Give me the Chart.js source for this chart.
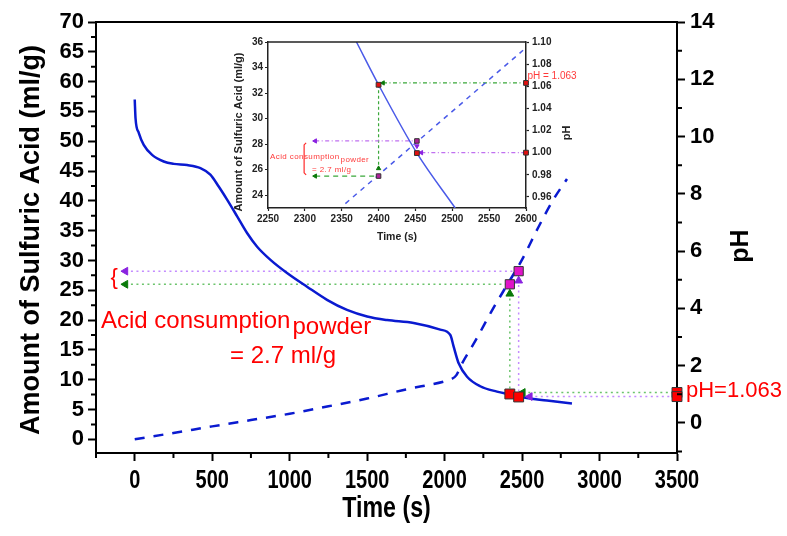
<!DOCTYPE html>
<html>
<head>
<meta charset="utf-8">
<script src="https://cdn.jsdelivr.net/npm/chart.js@4.4.0/dist/chart.umd.min.js"></script>
<style>
  html, body { margin: 0; padding: 0; background: #fff; }
  #wrap { position: relative; width: 787px; height: 536px; }
  #mainChart { position: absolute; left: 0; top: 0; }
  #insetChart { position: absolute; left: 228px; top: 30px; filter: blur(0.5px); }
</style>
</head>
<body>
<div id="wrap">
  <canvas id="mainChart" width="787" height="536"></canvas>
  <canvas id="insetChart" width="352" height="220"></canvas>
</div>
<script>
// ---------- main plot: acid consumption and pH vs time ----------
const xTicks = [0, 500, 1000, 1500, 2000, 2500, 3000, 3500];
const xMinor = [-250, 250, 750, 1250, 1750, 2250, 2750, 3250];
const acidTicks = [0, 5, 10, 15, 20, 25, 30, 35, 40, 45, 50, 55, 60, 65, 70];
const acidMinor = [2.5, 7.5, 12.5, 17.5, 22.5, 27.5, 32.5, 37.5, 42.5, 47.5, 52.5, 57.5, 62.5, 67.5];
const phTicks = [0, 2, 4, 6, 8, 10, 12, 14];
const phMinor = [-1, 1, 3, 5, 7, 9, 11, 13];

const acidTime = [0, 5, 26, 58, 112, 187, 252, 338, 424, 488, 542, 596, 661, 725, 790, 876, 983, 1112, 1241, 1370, 1500, 1629, 1800, 1972, 2037, 2058, 2090, 2145, 2230, 2338, 2424, 2489, 2661, 2822];
const acidAmount = [57.0, 53.9, 51.4, 49.4, 47.7, 46.6, 46.2, 46.0, 45.5, 44.4, 42.4, 40.2, 37.4, 34.6, 32.3, 30.1, 27.9, 25.6, 23.4, 21.7, 20.6, 20.0, 19.5, 18.4, 17.5, 15.6, 12.8, 10.5, 8.9, 8.0, 7.5, 7.1, 6.5, 6.0];

const phTime = [0, 250, 500, 750, 1000, 1250, 1500, 1750, 2000, 2040, 2075, 2110, 2200, 2300, 2400, 2500, 2600, 2700, 2790];
const phValue = [-0.57, -0.35, -0.12, 0.1, 0.32, 0.58, 0.85, 1.17, 1.45, 1.52, 1.66, 2.05, 2.88, 3.87, 4.79, 5.7, 6.78, 7.78, 8.52];

// marcações: primeiro ponto (verde) e segundo ponto (roxo)
const markTime = [2421, 2478];
const markAcidOnCurve = [7.6, 7.1];
const markAcidOnPh = [26.0, 28.2];
const arrowUpAcid = [24.4, 26.6];
const markPh = [1.063, 0.92];
const arrowPhTime = [2505, 2550];
const guideStart = -60;
const guideEnd = 3500;

// ---------- inset: zoom 2250-2600 s ----------
const insetXTicks = [2250, 2300, 2350, 2400, 2450, 2500, 2550, 2600];
const insetAcidTicks = [24, 26, 28, 30, 32, 34, 36];
const insetPhTicks = [0.96, 0.98, 1.00, 1.02, 1.04, 1.06, 1.08, 1.10];

const insetAcidTime = [2370, 2400, 2452, 2504];
const insetAcidAmount = [36.0, 32.65, 27.3, 23.0];
const insetPhTime = [2355, 2596];
const insetPhValue = [0.954, 1.0925];

const insetRedTime = [2400, 2452];
const insetRedAcid = [32.65, 27.3];
const insetMagAcid = [25.5, 28.25];
const insetPhMarks = [1.063, 1.00];
const insetGuideStart = 2314;

const BLUE = '#0a1ad0';
const GREEN_LINE = '#6cc46c';
const PURPLE_LINE = '#c48cff';
const GREEN_ARROW = '#0a7a0a';
const PURPLE_ARROW = '#8a22e0';
const FONT = "'Liberation Sans', Arial, sans-serif";

function pts(xs, ys) {
  return xs.map((x, i) => ({ x: x, y: ys[i] }));
}

function guide(data, color, axis, dash, width) {
  return {
    type: 'line', data: data, yAxisID: axis, borderColor: color,
    borderWidth: width || 1.5, borderDash: dash || [2, 3.5],
    pointRadius: 0, fill: false, order: 5, clip: false
  };
}

function marks(data, axis, style, radius, fill, edge, rotation) {
  return {
    type: 'line', data: data, yAxisID: axis, showLine: false,
    pointStyle: style, pointRadius: radius, pointRotation: rotation || 0,
    pointBackgroundColor: fill, pointBorderColor: edge, pointBorderWidth: 1,
    order: 0, clip: false
  };
}

function fixedTicks(values) {
  return function (scale) { scale.ticks = values.map(v => ({ value: v })); };
}

function drawRotated(ctx, text, x, y, font) {
  ctx.save();
  ctx.translate(x, y);
  ctx.rotate(-Math.PI / 2);
  ctx.font = font;
  ctx.textAlign = 'center';
  ctx.textBaseline = 'middle';
  ctx.fillText(text, 0, 0);
  ctx.restore();
}

const mainDecor = {
  id: 'mainDecor',
  afterDraw(chart) {
    const { ctx, chartArea: a, scales } = chart;
    const sx = scales.x, sa = scales.y, sp = scales.y2;
    ctx.save();
    ctx.strokeStyle = '#000';
    ctx.lineWidth = 2;
    ctx.beginPath();
    ctx.moveTo(a.left - 1, a.top);
    ctx.lineTo(a.right + 1, a.top);
    xMinor.forEach(v => { const p = sx.getPixelForValue(v); ctx.moveTo(p, a.bottom); ctx.lineTo(p, a.bottom + 5); });
    acidMinor.forEach(v => { const p = sa.getPixelForValue(v); ctx.moveTo(a.left, p); ctx.lineTo(a.left - 5, p); });
    phMinor.forEach(v => { const p = sp.getPixelForValue(v); ctx.moveTo(a.right, p); ctx.lineTo(a.right + 5, p); });
    ctx.stroke();

    // x tick labels (condensed bold)
    ctx.fillStyle = '#000';
    ctx.textAlign = 'center';
    ctx.textBaseline = 'middle';
    ctx.font = 'bold 25px ' + FONT;
    xTicks.forEach(v => {
      ctx.save();
      ctx.translate(sx.getPixelForValue(v), 481);
      ctx.scale(0.8, 1);
      ctx.fillText(String(v), 0, 0);
      ctx.restore();
    });
    ctx.save();
    ctx.translate((a.left + a.right) / 2, 509);
    ctx.scale(0.8, 1);
    ctx.font = 'bold 29px ' + FONT;
    ctx.fillText('Time (s)', 0, 0);
    ctx.restore();

    drawRotated(ctx, 'Amount of Sulfuric Acid (ml/g)', 32, 240, 'bold 27px ' + FONT);
    drawRotated(ctx, 'pH', 741, 246, 'bold 25px ' + FONT);

    // annotations in red
    ctx.fillStyle = '#ff0000';
    ctx.textAlign = 'left';
    ctx.textBaseline = 'alphabetic';
    ctx.font = '24px ' + FONT;
    ctx.fillText('Acid consumption', 101, 328);
    const w = ctx.measureText('Acid consumption').width;
    ctx.fillText('powder', 101 + w + 2, 334);
    ctx.fillText('= 2.7 ml/g', 230, 363);
    ctx.font = '22px ' + FONT;
    ctx.textBaseline = 'middle';
    ctx.fillText('pH=1.063', 686, sp.getPixelForValue(markPh[0]) - 2);
    ctx.textAlign = 'center';
    ctx.fillText('{', sx.getPixelForValue(guideStart - 72), (sa.getPixelForValue(markAcidOnPh[0]) + sa.getPixelForValue(markAcidOnPh[1])) / 2);
    ctx.restore();
  }
};

const axisCommon = {
  border: { display: true, color: '#000', width: 2 },
  grid: { drawOnChartArea: false, drawTicks: true, tickLength: 8, tickColor: '#000', tickWidth: 2 }
};

new Chart(document.getElementById('mainChart'), {
  type: 'line',
  data: {
    datasets: [
      marks(pts(markTime, markAcidOnCurve), 'y', 'rect', 7, '#ff0000', '#333'),
      marks(pts(markTime, markAcidOnPh), 'y', 'rect', 6.5, '#e014c8', '#333'),
      marks(pts([guideEnd, guideEnd], markPh), 'y2', 'rect', 7, '#ff0000', '#333'),
      marks(pts(markTime, arrowUpAcid), 'y', 'triangle', 4.5, [GREEN_ARROW, PURPLE_ARROW], [GREEN_ARROW, PURPLE_ARROW]),
      marks(pts([guideStart, guideStart], markAcidOnPh), 'y', 'triangle', 4.5, [GREEN_ARROW, PURPLE_ARROW], [GREEN_ARROW, PURPLE_ARROW], -90),
      marks(pts(arrowPhTime, markPh), 'y2', 'triangle', 4.5, [GREEN_ARROW, PURPLE_ARROW], [GREEN_ARROW, PURPLE_ARROW], -90),
      guide(pts([guideStart, markTime[0]], [markAcidOnPh[0], markAcidOnPh[0]]), GREEN_LINE, 'y'),
      guide(pts([guideStart, markTime[1]], [markAcidOnPh[1], markAcidOnPh[1]]), PURPLE_LINE, 'y'),
      guide(pts([markTime[0], markTime[0]], [markAcidOnCurve[0], arrowUpAcid[0]]), GREEN_LINE, 'y'),
      guide(pts([markTime[1], markTime[1]], [markAcidOnCurve[1], arrowUpAcid[1]]), PURPLE_LINE, 'y'),
      guide(pts([arrowPhTime[0], guideEnd], [markPh[0], markPh[0]]), GREEN_LINE, 'y2'),
      guide(pts([arrowPhTime[1], guideEnd], [markPh[1], markPh[1]]), PURPLE_LINE, 'y2'),
      {
        data: pts(acidTime, acidAmount), yAxisID: 'y', borderColor: BLUE, borderWidth: 2.5,
        pointRadius: 0, cubicInterpolationMode: 'monotone', fill: false, order: 2
      },
      {
        data: pts(phTime, phValue), yAxisID: 'y2', borderColor: BLUE, borderWidth: 2.5,
        borderDash: [10, 9], pointRadius: 0, cubicInterpolationMode: 'monotone', fill: false, order: 2
      }
    ]
  },
  options: {
    responsive: false,
    animation: false,
    events: [],
    layout: { padding: { top: 22, left: 0, right: 0, bottom: 0 } },
    plugins: { legend: { display: false }, tooltip: { enabled: false } },
    scales: {
      x: Object.assign({}, axisCommon, {
        type: 'linear', min: -250, max: 3500,
        afterBuildTicks: fixedTicks(xTicks),
        afterFit: s => { s.height = 83; },
        ticks: { display: false }
      }),
      y: Object.assign({}, axisCommon, {
        type: 'linear', position: 'left', min: -2.3, max: 70,
        afterBuildTicks: fixedTicks(acidTicks),
        afterFit: s => { s.width = 96; },
        ticks: { color: '#000', padding: 4, font: { family: FONT, weight: 'bold', size: 22 } }
      }),
      y2: Object.assign({}, axisCommon, {
        type: 'linear', position: 'right', min: -1.05, max: 14,
        afterBuildTicks: fixedTicks(phTicks),
        afterFit: s => { s.width = 110; },
        ticks: { color: '#000', padding: 5, font: { family: FONT, weight: 'bold', size: 22 } }
      })
    }
  },
  plugins: [mainDecor]
});

// ---------- inset chart ----------
const insetDecor = {
  id: 'insetDecor',
  afterDraw(chart) {
    const { ctx, chartArea: a, scales } = chart;
    const sx = scales.x, sa = scales.y;
    ctx.save();
    ctx.strokeStyle = '#222';
    ctx.lineWidth = 1.5;
    ctx.beginPath();
    ctx.moveTo(a.left, a.top);
    ctx.lineTo(a.right, a.top);
    ctx.stroke();

    // red bracket spanning the consumption
    const bx = sx.getPixelForValue(2299);
    const y1 = sa.getPixelForValue(28.1), y2 = sa.getPixelForValue(25.6);
    ctx.strokeStyle = '#ff2a2a';
    ctx.lineWidth = 1.2;
    ctx.beginPath();
    ctx.moveTo(bx + 2, y1); ctx.lineTo(bx, y1 + 2); ctx.lineTo(bx, y2 - 2); ctx.lineTo(bx + 2, y2);
    ctx.stroke();

    ctx.fillStyle = '#222';
    drawRotated(ctx, 'Amount of Sulfuric Acid (ml/g)', 11, 102, 'bold 11px ' + FONT);
    drawRotated(ctx, 'pH', 339, 103, 'bold 11px ' + FONT);
    ctx.font = 'bold 10.5px ' + FONT;
    ctx.textAlign = 'center';
    ctx.textBaseline = 'middle';
    ctx.fillText('Time (s)', 169, 207);

    ctx.fillStyle = '#ff3a3a';
    ctx.textAlign = 'left';
    ctx.textBaseline = 'alphabetic';
    ctx.font = '8px ' + FONT;
    ctx.letterSpacing = '0.4px';
    ctx.fillText('Acid consumption', 42, 129);
    const w = ctx.measureText('Acid consumption').width;
    ctx.fillText('powder', 42 + w + 1, 132);
    ctx.fillText('= 2.7 ml/g', 84, 142);
    ctx.letterSpacing = '0px';
    ctx.font = '10px ' + FONT;
    ctx.textAlign = 'center';
    ctx.fillText('pH = 1.063', 324, 49);
    ctx.restore();
  }
};

const insetAxis = {
  border: { display: true, color: '#222', width: 1.5 },
  grid: { drawOnChartArea: false, drawTicks: true, tickLength: 3, tickColor: '#222', tickWidth: 1.2 }
};
const insetTickFont = { family: FONT, weight: 'bold', size: 10 };
const dashDot = [4, 2.5, 1, 2.5];

new Chart(document.getElementById('insetChart'), {
  type: 'line',
  data: {
    datasets: [
      marks(pts(insetRedTime, insetRedAcid), 'y', 'rect', 3.4, '#e01010', '#333'),
      marks(pts(insetRedTime, insetMagAcid), 'y', 'rect', 3.2, '#b0209a', '#333'),
      marks(pts([2600, 2600], insetPhMarks), 'y2', 'rect', 3.4, '#e01010', '#333'),
      marks(pts([2400], [26.1]), 'y', 'triangle', 2.5, GREEN_ARROW, GREEN_ARROW),
      marks(pts([2452], [27.85]), 'y', 'triangle', 2.5, PURPLE_ARROW, PURPLE_ARROW, 180),
      marks(pts([insetGuideStart, insetGuideStart], [insetMagAcid[0], insetMagAcid[1]]), 'y', 'triangle', 2.5, [GREEN_ARROW, PURPLE_ARROW], [GREEN_ARROW, PURPLE_ARROW], -90),
      marks(pts([2406, 2458], insetPhMarks), 'y2', 'triangle', 2.5, [GREEN_ARROW, PURPLE_ARROW], [GREEN_ARROW, PURPLE_ARROW], -90),
      guide(pts([insetGuideStart, 2400], [insetMagAcid[0], insetMagAcid[0]]), '#3aa83a', 'y', [5, 4], 1.2),
      guide(pts([insetGuideStart, 2452], [insetMagAcid[1], insetMagAcid[1]]), '#c070f0', 'y', dashDot, 1.2),
      guide(pts([2400, 2400], [insetRedAcid[0], 26.1]), '#3aa83a', 'y', [3, 2.5], 1.2),
      guide(pts([2406, 2600], [insetPhMarks[0], insetPhMarks[0]]), '#3aa83a', 'y2', dashDot, 1.2),
      guide(pts([2458, 2600], [insetPhMarks[1], insetPhMarks[1]]), '#c070f0', 'y2', dashDot, 1.2),
      {
        data: pts(insetAcidTime, insetAcidAmount), yAxisID: 'y', borderColor: '#4a5ae8', borderWidth: 1.5,
        pointRadius: 0, cubicInterpolationMode: 'monotone', fill: false, order: 2
      },
      {
        data: pts(insetPhTime, insetPhValue), yAxisID: 'y2', borderColor: '#4a5ae8', borderWidth: 1.5,
        borderDash: [5, 5], pointRadius: 0, fill: false, order: 2
      }
    ]
  },
  options: {
    responsive: false,
    animation: false,
    events: [],
    layout: { padding: { top: 12, left: 0, right: 0, bottom: 0 } },
    plugins: { legend: { display: false }, tooltip: { enabled: false } },
    scales: {
      x: Object.assign({}, insetAxis, {
        type: 'linear', min: 2250, max: 2600,
        afterBuildTicks: fixedTicks(insetXTicks),
        afterFit: s => { s.height = 42; },
        ticks: { color: '#222', padding: 2, font: insetTickFont, callback: v => String(v) }
      }),
      y: Object.assign({}, insetAxis, {
        type: 'linear', position: 'left', min: 23, max: 36,
        afterBuildTicks: fixedTicks(insetAcidTicks),
        afterFit: s => { s.width = 40; },
        ticks: { color: '#222', padding: 2, font: insetTickFont }
      }),
      y2: Object.assign({}, insetAxis, {
        type: 'linear', position: 'right', min: 0.95, max: 1.10,
        afterBuildTicks: fixedTicks(insetPhTicks),
        afterFit: s => { s.width = 54; },
        ticks: { color: '#222', padding: 3, font: insetTickFont, callback: v => Number(v).toFixed(2) }
      })
    }
  },
  plugins: [insetDecor]
});
</script>
</body>
</html>
